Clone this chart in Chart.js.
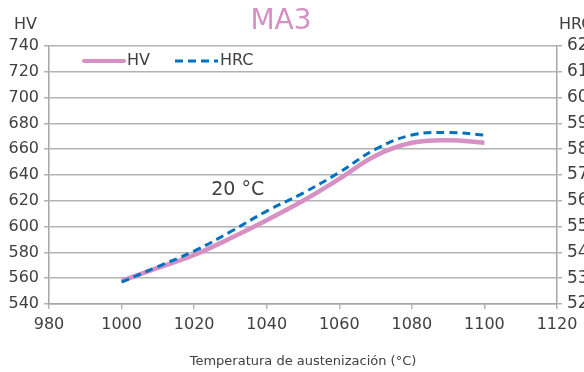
<!DOCTYPE html>
<html lang="es">
<head>
    <meta charset="UTF-8" />
    <title>MA3</title>
    <script src="https://cdn.jsdelivr.net/npm/chart.js@4.4.1/dist/chart.umd.min.js"></script>
    <style>
        html, body { margin: 0; padding: 0; background: #fff; }
        #wrap { width: 584px; height: 372px; overflow: hidden; }
    </style>
</head>
<body>
    <div id="wrap"><canvas id="chart" width="584" height="372"></canvas></div>

    <script>
        // temperatures (°C)
        const temps = [1000, 1010, 1020, 1030, 1040, 1050, 1060, 1070, 1080, 1090, 1100];
        // hardness values
        const hv = [558, 568, 578, 591, 605, 620, 637, 655, 665, 667, 665];
        const hrc = [52.85, 53.45, 54.05, 54.8, 55.6, 56.3, 57.1, 58.0, 58.55, 58.65, 58.55];

        const hvTicks = { min: 540, max: 740, step: 20 };
        const hrcTicks = { min: 52, max: 62, step: 1 };
        const tempTicks = { min: 980, max: 1120, step: 20 };

        const pink = "#d690c4";
        const blue = "#0070c0";
        const textCol = "#404040";
        const gridCol = "#b3b3b3";
        const font = "'DejaVu Sans'";

        // extra texts: title, axis units, the in-plot legend and the "20 °C" note
        const extras = {
            id: "extras",
            afterDraw(chart) {
                const ctx = chart.ctx;
                const sx = chart.scales.x, sy = chart.scales.y;
                ctx.save();
                ctx.textBaseline = "middle";

                ctx.fillStyle = pink;
                ctx.font = "28px " + font;
                ctx.textAlign = "center";
                ctx.fillText("MA3", 281, 22);

                ctx.fillStyle = textCol;
                ctx.font = "16px " + font;
                ctx.textAlign = "left";
                ctx.fillText("HV", 14, 25);
                ctx.fillText("HRC", 559, 25);

                // legend
                const ly = 61;
                ctx.lineCap = "round";
                ctx.strokeStyle = pink;
                ctx.lineWidth = 4;
                ctx.beginPath(); ctx.moveTo(84, ly); ctx.lineTo(124, ly); ctx.stroke();
                ctx.fillText("HV", 127, ly);
                ctx.strokeStyle = blue;
                ctx.lineWidth = 3;
                ctx.lineCap = "butt";
                ctx.setLineDash([8, 5]);
                ctx.beginPath(); ctx.moveTo(175, ly); ctx.lineTo(218, ly); ctx.stroke();
                ctx.setLineDash([]);
                ctx.fillText("HRC", 220, ly);

                ctx.font = "19px " + font;
                ctx.textAlign = "center";
                ctx.fillText("20 °C", sx.getPixelForValue(1032), sy.getPixelForValue(628));
                ctx.restore();
            }
        };

        const plain = v => String(v);

        new Chart(document.getElementById("chart"), {
            type: "line",
            data: {
                datasets: [
                    {
                        label: "HV",
                        data: temps.map((t, i) => ({ x: t, y: hv[i] })),
                        borderColor: pink,
                        borderWidth: 4.5,
                        pointRadius: 0,
                        tension: 0.4,
                        yAxisID: "y",
                        order: 2
                    },
                    {
                        label: "HRC",
                        data: temps.map((t, i) => ({ x: t, y: hrc[i] })),
                        borderColor: blue,
                        borderWidth: 3,
                        borderDash: [8, 5],
                        pointRadius: 0,
                        tension: 0.4,
                        yAxisID: "y1",
                        order: 1
                    }
                ]
            },
            options: {
                responsive: false,
                animation: false,
                layout: { padding: { top: 46 } },
                plugins: {
                    legend: { display: false },
                    tooltip: { enabled: false },
                    title: { display: false }
                },
                scales: {
                    x: {
                        type: "linear",
                        min: tempTicks.min,
                        max: tempTicks.max,
                        ticks: { stepSize: tempTicks.step, callback: plain, color: textCol, font: { family: font, size: 16 }, padding: 6 },
                        grid: { drawOnChartArea: false, color: gridCol, tickLength: 5, lineWidth: 1.5 },
                        border: { color: "#a6a6a6", width: 1.5 },
                        title: {
                            display: true,
                            text: "Temperatura de austenización (°C)",
                            color: textCol,
                            font: { family: font, size: 13 },
                            padding: { top: 0, bottom: 3 }
                        },
                        afterFit(s) { s.height = 68; }
                    },
                    y: {
                        position: "left",
                        min: hvTicks.min,
                        max: hvTicks.max,
                        ticks: { stepSize: hvTicks.step, callback: plain, color: textCol, font: { family: font, size: 16 }, padding: 5 },
                        grid: { color: gridCol, tickLength: 5, lineWidth: 1.5 },
                        border: { color: "#a6a6a6", width: 1.5 },
                        afterFit(s) { s.width = 49; }
                    },
                    y1: {
                        position: "right",
                        min: hrcTicks.min,
                        max: hrcTicks.max,
                        ticks: { stepSize: hrcTicks.step, callback: plain, color: textCol, font: { family: font, size: 17 }, padding: 5 },
                        grid: { drawOnChartArea: false, color: gridCol, tickLength: 5, lineWidth: 1.5 },
                        border: { color: "#a6a6a6", width: 1.5 },
                        afterFit(s) { s.width = 27; }
                    }
                }
            },
            plugins: [extras]
        });
    </script>
</body>
</html>
